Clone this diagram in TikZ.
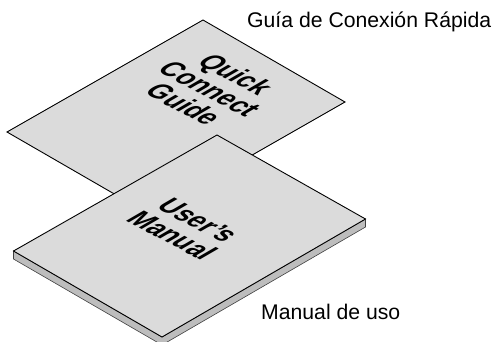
\documentclass[tikz,border=0pt]{standalone}
\usepackage{fontspec}
\setmainfont{Liberation Sans}
\definecolor{sheet}{HTML}{DBDBDB}
\definecolor{edgeg}{HTML}{BDBDBD}
\tikzset{
  sheetface/.style={draw=black,fill=sheet,line width=0.9pt,line join=miter},
  sideface/.style={draw=black!75,fill=edgeg,line width=0.6pt,line join=miter},
  isotext/.style={cm={.86,-.45,1.0,.58,(0,0)},align=center,font=\bfseries\fontsize{26}{26}\selectfont,inner sep=0pt},
  caption/.style={font=\fontsize{21.2}{24}\selectfont,inner sep=0pt,anchor=base west}
}
\begin{document}
\begin{tikzpicture}[x=1pt,y=-1pt]
\useasboundingbox (0,0) rectangle (494,341);
\draw[sheetface] (203,20) -- (345,102) -- (149,214) -- (7,132) -- cycle;
\node[isotext] (quick) at (210,89) {Quick\\Connect\\Guide};
\draw[sideface] (13.5,251) -- (13.5,259) -- (162,345) -- (365.5,227) -- (365.5,219) -- (162,337) -- cycle;
\draw[sheetface] (217,135) -- (365.5,219) -- (162,337) -- (13.5,251) -- cycle;
\node[isotext] (users) at (185,228) {User's\\Manual};
\node[caption] (guia) at (247,27) {Guía de Conexión Rápida};
\node[caption] (manual) at (261,319) {Manual de uso};
\end{tikzpicture}
\end{document}
